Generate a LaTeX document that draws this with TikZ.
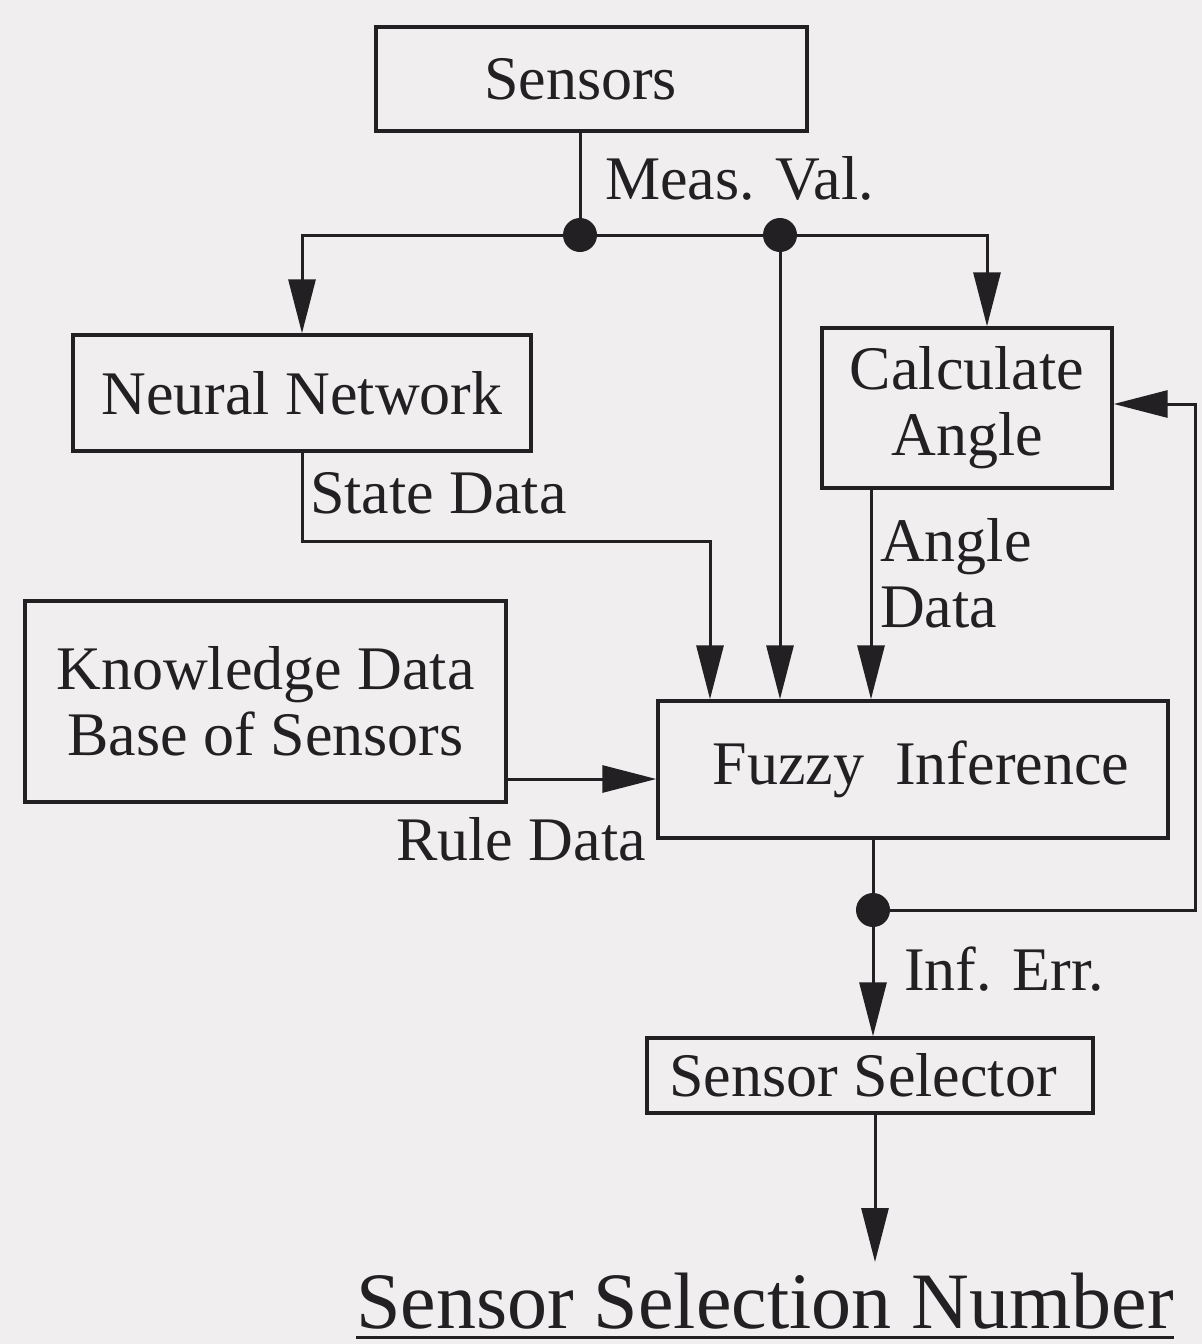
\documentclass[tikz,border=0pt]{standalone}
\usepackage{fontspec}
\setmainfont{Liberation Serif}
\usetikzlibrary{arrows.meta}
\definecolor{paper}{RGB}{240,238,239}
\definecolor{ink}{RGB}{34,32,34}
\begin{document}
\begin{tikzpicture}[x=1pt,y=-1pt,
  every node/.style={font=\fontsize{62}{66}\selectfont, text=ink},
  blk/.style={draw=ink, line width=3.4pt, inner sep=0pt, align=center},
  lbl/.style={inner sep=0pt, align=left},
  wire/.style={draw=ink, line width=3pt},
  arr/.style={wire, -{Triangle[length=54pt,width=27pt]}},
  junc/.style={circle, fill=ink, inner sep=0pt, minimum size=34pt}]
  % page
  \fill[paper] (0,0) rectangle (1202,1344);
  \useasboundingbox (0,0) rectangle (1202,1344);

  % blocks
  \node[blk, minimum width=431pt, minimum height=104pt] (sens) at (591.5,79) {Sensors\hspace*{22pt}};
  \node[blk, minimum width=458pt, minimum height=116pt] (nn) at (302,393) {\raisebox{-5pt}{Neural Network}};
  \node[blk, minimum width=290pt, minimum height=160pt] (ca) at (967,408) {\raisebox{-4pt}{Calculate}\\\raisebox{-4pt}{Angle}};
  \node[blk, minimum width=481pt, minimum height=201pt] (kb) at (265.5,701.5) {Knowledge Data\\Base of Sensors};
  \node[blk, minimum width=510pt, minimum height=137pt] (fz) at (913,769.5) {\hspace*{16pt}Fuzzy\ \ Inference};
  \node[blk, minimum width=446pt, minimum height=75pt] (ss) at (870,1075.5) {Sensor Selector\hspace*{14pt}};

  % branch points and routing points
  \coordinate (j1) at (580,235);
  \coordinate (j2) at (780,235);
  \coordinate (jr) at (987,235);
  \coordinate (sd) at (710,541);
  \coordinate (ad) at (871,600);
  \coordinate (rd) at (0,779);
  \coordinate (j3) at (873,910);
  \coordinate (fb) at (1195,404);
  \coordinate (so) at (875,1262);

  % measured values from the sensors
  \draw[wire] (sens.south -| j1) -- (j1);
  \draw[arr] (j1) -| (nn.north);
  \draw[arr] (j1) -- (jr) -- (jr |- ca.north);
  \draw[arr] (j2) -- (j2 |- fz.north);
  \node[junc] at (j1) {};
  \node[junc] at (j2) {};

  % inputs of the fuzzy inference
  \draw[arr] (nn.south) |- (sd) -- (sd |- fz.north);
  \draw[arr] (ca.south -| ad) -- (ad |- fz.north);
  \draw[arr] (kb.east |- rd) -- (fz.west |- rd);

  % inference error and feedback
  \draw[wire] (fz.south -| j3) -- (j3);
  \draw[arr] (j3) -- (j3 |- ss.north);
  \draw[arr] (j3) -| (fb) -- (ca.east |- fb);
  \node[junc] at (j3) {};

  % selector output
  \draw[arr] (ss.south -| so) -- (so);
  \node[inner sep=0pt, anchor=base, font=\fontsize{80}{84}\selectfont] (out) at (765,1328) {Sensor Selection Number};
  \draw[wire] (out.west |- 0,1337) -- (out.east |- 0,1337);

  % signal labels
  \node[lbl, anchor=west] (lmeas) at (605,178) {Meas. Val.};
  \node[lbl, anchor=west] (lstate) at (310,493) {State Data};
  \node[lbl, anchor=north west] (langle) at (880,518) {Angle\\Data};
  \node[lbl, anchor=east] (lrule) at (646,839) {Rule Data};
  \node[lbl, anchor=west] (linf) at (904,969) {Inf. Err.};
\end{tikzpicture}
\end{document}
